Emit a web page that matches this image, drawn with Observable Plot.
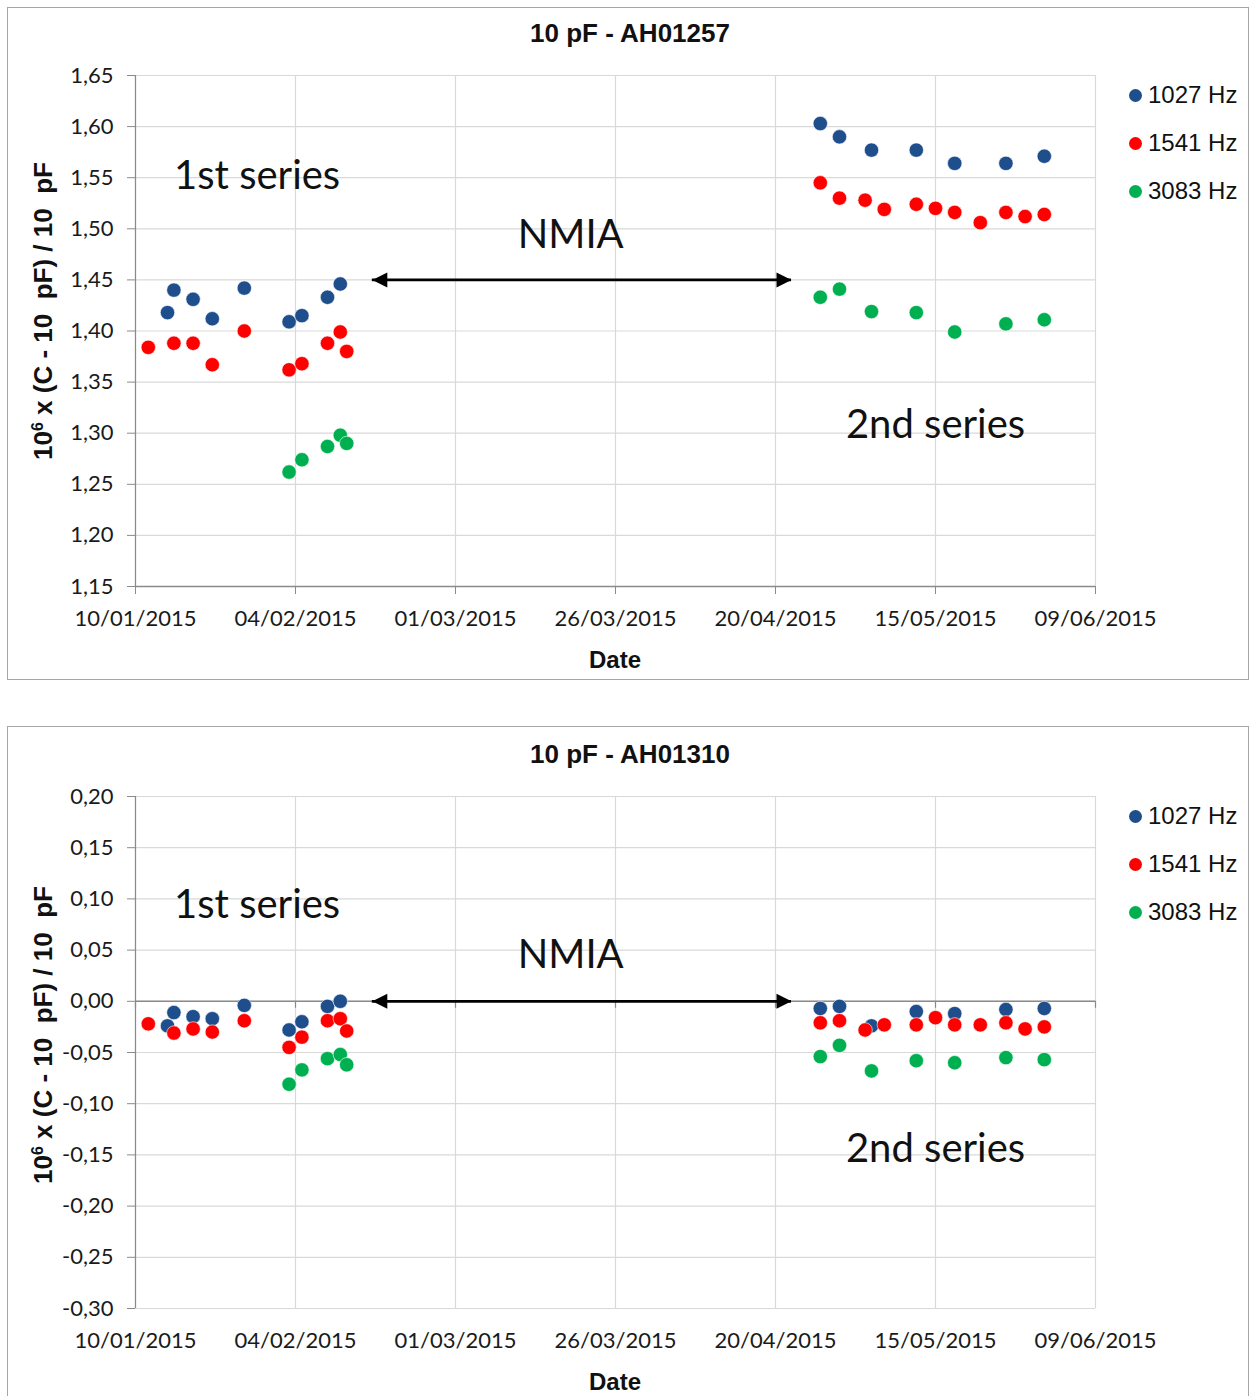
<!DOCTYPE html>
<html><head><meta charset="utf-8">
<script src="https://cdn.jsdelivr.net/npm/d3@7"></script>
<script src="https://cdn.jsdelivr.net/npm/@observablehq/plot@0.6"></script>
<style>
body{margin:0;background:#fff;width:1250px;height:1396px;overflow:hidden;position:relative;font-family:"Liberation Sans",Arial,sans-serif;color:#111}
.panel{position:absolute;left:7px;width:1242px;height:673px;border:1px solid #a6a6a6;box-sizing:border-box;background:#fff;overflow:hidden}
.panel svg{position:absolute;left:0;top:0}
.title{position:absolute;left:0;width:100%;text-align:center;font-weight:bold;font-size:26px;transform:translateY(-50%);white-space:pre}
.ylab{position:absolute;white-space:pre;font-weight:bold;font-size:26px;transform:translate(-50%,-50%) rotate(-90deg)}
.xlab{position:absolute;font-weight:bold;font-size:24px;transform:translate(-50%,-50%)}
.leg{position:absolute;font-size:24px;transform:translateY(-50%);display:flex;align-items:center;white-space:nowrap}
.leg span.sw{display:inline-block;width:13px;height:13px;border-radius:50%;margin-right:6px}
</style>
</head><body>
<div id="root"></div>
<script>
// ---- data ----
const xTickLabels = ["2015-01-10","2015-02-04","2015-03-01","2015-03-26","2015-04-20","2015-05-15","2015-06-09"];
const seriesNames = ["1027 Hz","1541 Hz","3083 Hz"];
const seriesColors = ["#1f4e8c","#ff0000","#00b050"];

const datesBlue = ["2015-01-15","2015-01-16","2015-01-19","2015-01-22","2015-01-27","2015-02-03","2015-02-05","2015-02-09","2015-02-11",
  "2015-04-27","2015-04-30","2015-05-05","2015-05-12","2015-05-18","2015-05-26","2015-06-01"];
const datesRed = ["2015-01-12","2015-01-16","2015-01-19","2015-01-22","2015-01-27","2015-02-03","2015-02-05","2015-02-09","2015-02-11","2015-02-12",
  "2015-04-27","2015-04-30","2015-05-04","2015-05-07","2015-05-12","2015-05-15","2015-05-18","2015-05-22","2015-05-26","2015-05-29","2015-06-01"];
const datesGreen = ["2015-02-03","2015-02-05","2015-02-09","2015-02-11","2015-02-12",
  "2015-04-27","2015-04-30","2015-05-05","2015-05-12","2015-05-18","2015-05-26","2015-06-01"];

// Chart 1: 10 pF - AH01257
const yTicksTop = [1.15,1.20,1.25,1.30,1.35,1.40,1.45,1.50,1.55,1.60,1.65];
const blueTop = [1.418,1.440,1.431,1.412,1.442,1.409,1.415,1.433,1.446, 1.603,1.590,1.577,1.577,1.564,1.564,1.571];
const redTop = [1.384,1.388,1.388,1.367,1.400,1.362,1.368,1.388,1.399,1.380, 1.545,1.530,1.528,1.519,1.524,1.520,1.516,1.506,1.516,1.512,1.514];
const greenTop = [1.262,1.274,1.287,1.298,1.290, 1.433,1.441,1.419,1.418,1.399,1.407,1.411];
const annTop = [
  {label:"1st series", date:"2015-01-29", value:1.551},
  {label:"NMIA", date:"2015-03-19", value:1.494},
  {label:"2nd series", date:"2015-05-15", value:1.308}];
const arrowTop = {from:"2015-02-16", to:"2015-04-22T12:00Z", value:1.45};

// Chart 2: 10 pF - AH01310
const yTicksBot = [-0.30,-0.25,-0.20,-0.15,-0.10,-0.05,0.00,0.05,0.10,0.15,0.20];
const blueBot = [-0.024,-0.011,-0.015,-0.017,-0.004,-0.028,-0.020,-0.005,0.000, -0.007,-0.005,-0.024,-0.010,-0.012,-0.008,-0.007];
const redBot = [-0.022,-0.031,-0.027,-0.030,-0.019,-0.045,-0.035,-0.019,-0.017,-0.029, -0.021,-0.019,-0.028,-0.023,-0.023,-0.016,-0.023,-0.023,-0.021,-0.027,-0.025];
const greenBot = [-0.081,-0.067,-0.056,-0.052,-0.062, -0.054,-0.043,-0.068,-0.058,-0.060,-0.055,-0.057];
const annBot = [
  {label:"1st series", date:"2015-01-29", value:0.094},
  {label:"NMIA", date:"2015-03-19", value:0.045},
  {label:"2nd series", date:"2015-05-15", value:-0.144}];
const arrowBot = {from:"2015-02-16", to:"2015-04-22T12:00Z", value:0.0};

// ---- rendering ----
const fmtY = d => d.toFixed(2).replace(".", ",");
const fmtX = d3.utcFormat("%d/%m/%Y");
const xTicks = xTickLabels.map(d => new Date(d));
const leftTri = {draw(c){c.moveTo(0,0);c.lineTo(15,-7.5);c.lineTo(15,7.5);c.closePath();}};
const rightTri = {draw(c){c.moveTo(0,0);c.lineTo(-15,-7.5);c.lineTo(-15,7.5);c.closePath();}};

function toRows(dates, vals, s){ return dates.map((d,i)=>({date:new Date(d), value:vals[i], series:s})); }

function makePanel(cfg){
  const panel = document.createElement("div");
  panel.className = "panel";
  panel.style.top = cfg.top + "px";
  document.getElementById("root").appendChild(panel);

  const rows = [
    ...toRows(datesBlue, cfg.blue, seriesNames[0]),
    ...toRows(datesRed, cfg.red, seriesNames[1]),
    ...toRows(datesGreen, cfg.green, seriesNames[2])];
  const yMin = cfg.yTicks[0], yMax = cfg.yTicks[cfg.yTicks.length-1];
  const axisVal = cfg.axisAt;
  const marks = [
    Plot.gridY(cfg.yTicks, {stroke:"#d9d9d9", strokeOpacity:1, strokeWidth:1.2}),
    Plot.gridX(xTicks, {stroke:"#d9d9d9", strokeOpacity:1, strokeWidth:1.2}),
    Plot.ruleX([xTicks[0]], {stroke:"#8a8a8a", strokeWidth:1.2}),
    Plot.ruleY([axisVal], {stroke:"#8a8a8a", strokeWidth:1.4}),
    Plot.axisY(cfg.yTicks, {tickSize:8, tickPadding:14, tickFormat:fmtY, stroke:"#8a8a8a", fill:"#1a1a1a", label:null, fontSize:22}),
    Plot.axisX(xTicks, {tickSize: cfg.zeroAxis ? 0 : 8, tickPadding: cfg.zeroAxis ? 24 : 16, tickFormat:fmtX, stroke:"#8a8a8a", fill:"#1a1a1a", label:null, fontSize:22}),
  ];
  if (cfg.zeroAxis) marks.push(Plot.ruleX(xTicks, {y1:axisVal, y2:axisVal, insetBottom:-7, stroke:"#8a8a8a", strokeWidth:1.2}));
  marks.push(
    Plot.dot(rows, {x:"date", y:"value", fill:"series", r:7.2, stroke:"#fff", strokeWidth:0.6}),
    Plot.ruleY([cfg.arrow], {y:"value", x1:d=>new Date(d.from), x2:d=>new Date(d.to), stroke:"#000", strokeWidth:2.8}),
    Plot.dot([cfg.arrow], {x:d=>new Date(d.from), y:"value", symbol:leftTri, fill:"#000", r:8}),
    Plot.dot([cfg.arrow], {x:d=>new Date(d.to), y:"value", symbol:rightTri, fill:"#000", r:8}),
    Plot.text(cfg.ann, {x:d=>new Date(d.date), y:"value", text:"label", fontSize:40, fontFamily:"Lato", fill:"#111"})
  );
  const svg = Plot.plot({
    width:1240, height:671,
    marginLeft:127, marginRight:153, marginTop:cfg.mt, marginBottom:cfg.mb,
    style:{fontFamily:"Lato", fontSize:"22px", background:"transparent", overflow:"visible"},
    x:{type:"utc", domain:[xTicks[0], xTicks[xTicks.length-1]]},
    y:{domain:[yMin, yMax]},
    color:{domain:seriesNames, range:seriesColors},
    marks
  });
  panel.appendChild(svg);

  const t = document.createElement("div");
  t.className = "title"; t.style.top = cfg.titleY + "px"; t.style.left = "2px";
  t.textContent = cfg.title; panel.appendChild(t);

  const yl = document.createElement("div");
  yl.className = "ylab"; yl.style.left = "35px"; yl.style.top = cfg.ylabY + "px";
  yl.innerHTML = '10<span style="font-size:16px;vertical-align:9px">6</span> x (C - 10  pF) / 10  pF';
  panel.appendChild(yl);

  const xl = document.createElement("div");
  xl.className = "xlab"; xl.style.left = "607px"; xl.style.top = cfg.xlabY + "px";
  xl.textContent = "Date"; panel.appendChild(xl);

  seriesNames.forEach((n,i)=>{
    const l = document.createElement("div");
    l.className = "leg"; l.style.left = "1121px"; l.style.top = (cfg.legY + i*48) + "px";
    l.innerHTML = `<span class="sw" style="background:${seriesColors[i]}"></span>${n}`;
    panel.appendChild(l);
  });
}

makePanel({top:7, title:"10 pF - AH01257", mt:67, mb:93, yTicks:yTicksTop, blue:blueTop, red:redTop, green:greenTop,
  ann:annTop, arrow:arrowTop, axisAt:1.15, zeroAxis:false, titleY:25, ylabY:303, xlabY:652, legY:87});
makePanel({top:726, title:"10 pF - AH01310", mt:69, mb:90, yTicks:yTicksBot, blue:blueBot, red:redBot, green:greenBot,
  ann:annBot, arrow:arrowBot, axisAt:0, zeroAxis:true, titleY:27, ylabY:308, xlabY:655, legY:89});
</script>
</body></html>
